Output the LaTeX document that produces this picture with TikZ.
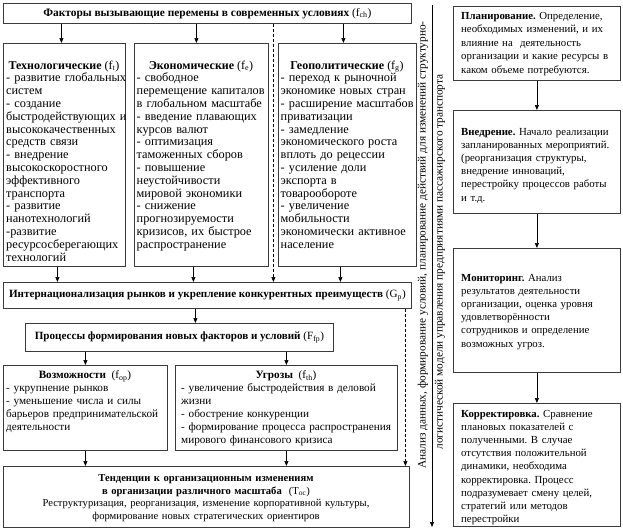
\documentclass[tikz,border=0pt]{standalone}
\usepackage{fontspec}
\setmainfont{Liberation Serif}
\usetikzlibrary{arrows.meta}
\definecolor{edge}{HTML}{3A3A3A}
\tikzset{
  box/.style={draw=edge, line width=0.8pt, inner sep=0pt, anchor=north west, fill=white},
  arr/.style={draw=black, line width=0.7pt, -{Triangle[length=5pt,width=4pt]}},
  darr/.style={arr, dash pattern=on 3pt off 2pt},
  body/.style={inner sep=0pt, anchor=base west, align=left, text width=#1},
  ttl/.style={inner sep=0pt, anchor=base},
  cbody/.style={inner sep=0pt, anchor=base, align=center, text width=#1},
  side/.style={inner sep=0pt, rotate=90, font=\fontsize{11.3}{13}\selectfont},
  colf/.style={font=\fontsize{12.3}{12.8}\selectfont},
  rightf/.style={font=\fontsize{10.8}{13.1}\selectfont}
}
\frenchspacing
\begin{document}
\begin{tikzpicture}[x=1pt,y=-1pt,font=\fontsize{11.2}{13}\selectfont]
\useasboundingbox (0,0) rectangle (623,530);
\fill[white] (0,0) rectangle (623,530);

% top box
\node[box, minimum width=408pt, minimum height=20pt, font=\fontsize{11.4}{13}\selectfont] (top) at (3,3)
  {\textbf{Факторы вызывающие перемены в современных условиях} (f\textsubscript{ch})};

% three columns
\node[box, minimum width=122pt, minimum height=223pt] (tech) at (3,43) {};
\node[box, minimum width=134pt, minimum height=223pt] (econ) at (134,43) {};
\node[box, minimum width=138pt, minimum height=223pt] (geo) at (278,43) {};

\node[ttl, font=\fontsize{12}{13}\selectfont] (techH) at (64,69) {\textbf{Технологические} (f\textsubscript{t})};
\node[ttl, font=\fontsize{12}{13}\selectfont] (econH) at (201,69) {\textbf{Экономические} (f\textsubscript{e})};
\node[ttl, font=\fontsize{12}{13}\selectfont] (geoH) at (347,69) {\textbf{Геополитические} (f\textsubscript{g})};

\node[body=150pt, colf] (techB) at (6,81.8)
  {- развитие глобальных\\систем\\- создание\\быстродействующих и\\высококачественных\\средств связи\\- внедрение\\высокоскоростного\\эффективного\\транспорта\\- развитие\\нанотехнологий\\-развитие\\ресурсосберегающих\\технологий};
\node[body=150pt, colf] (econB) at (136.5,81.8)
  {- свободное\\перемещение капиталов\\в глобальном масштабе\\- введение плавающих\\курсов валют\\- оптимизация\\таможенных сборов\\- повышение\\неустойчивости\\мировой экономики\\- снижение\\прогнозируемости\\кризисов, их быстрое\\распространение};
\node[body=150pt, colf] (geoB) at (280.5,81.8)
  {- переход к рыночной\\экономике новых стран\\- расширение масштабов\\приватизации\\- замедление\\экономического роста\\вплоть до рецессии\\- усиление доли\\экспорта в\\товарообороте\\- увеличение\\мобильности\\экономически активное\\население};

% middle boxes
\node[box, minimum width=408pt, minimum height=26pt, font=\fontsize{11.1}{13}\selectfont] (gp) at (3,282)
  {\textbf{Интернационализация рынков и укрепление конкурентных преимуществ} (G\textsubscript{p})};
\node[box, minimum width=308pt, minimum height=28pt, font=\fontsize{11.1}{13}\selectfont] (ffp) at (25,323)
  {\textbf{Процессы формирования новых факторов и условий} (F\textsubscript{fp})};

\node[box, minimum width=164pt, minimum height=85pt] (fop) at (3,365) {};
\node[box, minimum width=222pt, minimum height=85pt] (fth) at (175,365) {};
\node[ttl] (fopH) at (85,378.5) {\textbf{Возможности}\ \ (f\textsubscript{op})};
\node[ttl] (fthH) at (286,378.5) {\textbf{Угрозы}\ \ (f\textsubscript{th})};
\node[body=200pt] (fopB) at (6,391.2)
  {- укрупнение рынков\\- уменьшение числа и силы\\барьеров предпринимательской\\деятельности};
\node[body=240pt] (fthB) at (181,391.2)
  {- увеличение быстродействия в деловой\\жизни\\- обострение конкуренции\\- формирование процесса распространения\\мирового финансового кризиса};

\node[box, minimum width=406pt, minimum height=61pt] (toc) at (3,466) {};
\node[cbody=406pt, font=\fontsize{10.6}{12.7}\selectfont] (tocT) at (206,481.5)
  {\textbf{Тенденции к организационным изменениям}\\\textbf{в организации различного масштаба}\ \ (T\textsubscript{oc})\\Реструктуризация, реорганизация, изменение корпоративной культуры,\\формирование новых стратегических ориентиров};

% right column
\node[box, minimum width=167pt, minimum height=74pt] (plan) at (453,6) {};
\node[box, minimum width=167pt, minimum height=103pt] (impl) at (453,110) {};
\node[box, minimum width=167pt, minimum height=124pt] (mon) at (453,248) {};
\node[box, minimum width=167pt, minimum height=123pt] (korr) at (453,403) {};

\node[body=170pt, font=\fontsize{10.8}{13.4}\selectfont] (planT) at (461,19.5)
  {\textbf{Планирование.} Определение,\\необходимых изменений, и их\\влияние на\ \ деятельность\\организации и какие ресурсы в\\каком объеме потребуются.};
\node[body=170pt, rightf] (implT) at (461,135.5)
  {\textbf{Внедрение.} Начало реализации\\запланированных мероприятий.\\(реорганизация структуры,\\внедрение инноваций,\\перестройку процессов работы\\и т.д.};
\node[body=170pt, rightf] (monT) at (461,281.5)
  {\textbf{Мониторинг.} Анализ\\результатов деятельности\\организации, оценка уровня\\удовлетворённости\\сотрудников и определение\\возможных угроз.};
\node[body=170pt, rightf] (korrT) at (461,417.5)
  {\textbf{Корректировка.} Сравнение\\плановых показателей с\\полученными. В случае\\отсутствия положительной\\динамики, необходима\\корректировка. Процесс\\подразумевает смену целей,\\стратегий или методов\\перестройки};

% vertical axis with rotated caption
\coordinate (vs) at (432,5);
\coordinate (ve) at (432,527);
\draw[arr] (vs) -- (ve);
\node[side] (sideA) at (423,245) {Анализ данных, формирование условий, планирование действий для изменений структурно-};
\node[side] (sideB) at (440,262) {логистической модели управления предприятиями пассажирского транспорта};

% connectors
\draw[arr] ([xshift=-3pt]tech.north |- top.south) -- ([xshift=-3pt]tech.north);
\draw[arr] ([xshift=-5pt]econ.north |- top.south) -- ([xshift=-5pt]econ.north);
\draw[arr] ([xshift=-4pt]geo.north |- top.south) -- ([xshift=-4pt]geo.north);
\draw[darr] ([xshift=66pt]top.south) -- ([xshift=66pt]gp.north);

\draw[arr] ([xshift=-7pt]tech.south) -- ([xshift=-7pt]tech.south |- gp.north);
\draw[arr] ([xshift=-8pt]econ.south) -- ([xshift=-8pt]econ.south |- gp.north);
\draw[arr] ([xshift=-7pt]geo.south) -- ([xshift=-7pt]geo.south |- gp.north);

\draw[arr] ([xshift=16pt]ffp.north |- gp.south) -- ([xshift=16pt]ffp.north);
\draw[arr] (fop.north |- ffp.south) -- (fop.north);
\draw[arr] (fth.north |- ffp.south) -- (fth.north);
\draw[arr] (fop.south) -- (fop.south |- toc.north);
\draw[arr] (fth.south) -- (fth.south |- toc.north);
\draw[darr] ([xshift=198pt]gp.south) -- ([xshift=198pt]gp.south |- toc.north);

\draw[arr] (plan.south) -- (impl.north);
\draw[arr] (impl.south) -- (mon.north);
\draw[arr] (mon.south) -- (korr.north);
\end{tikzpicture}
\end{document}
